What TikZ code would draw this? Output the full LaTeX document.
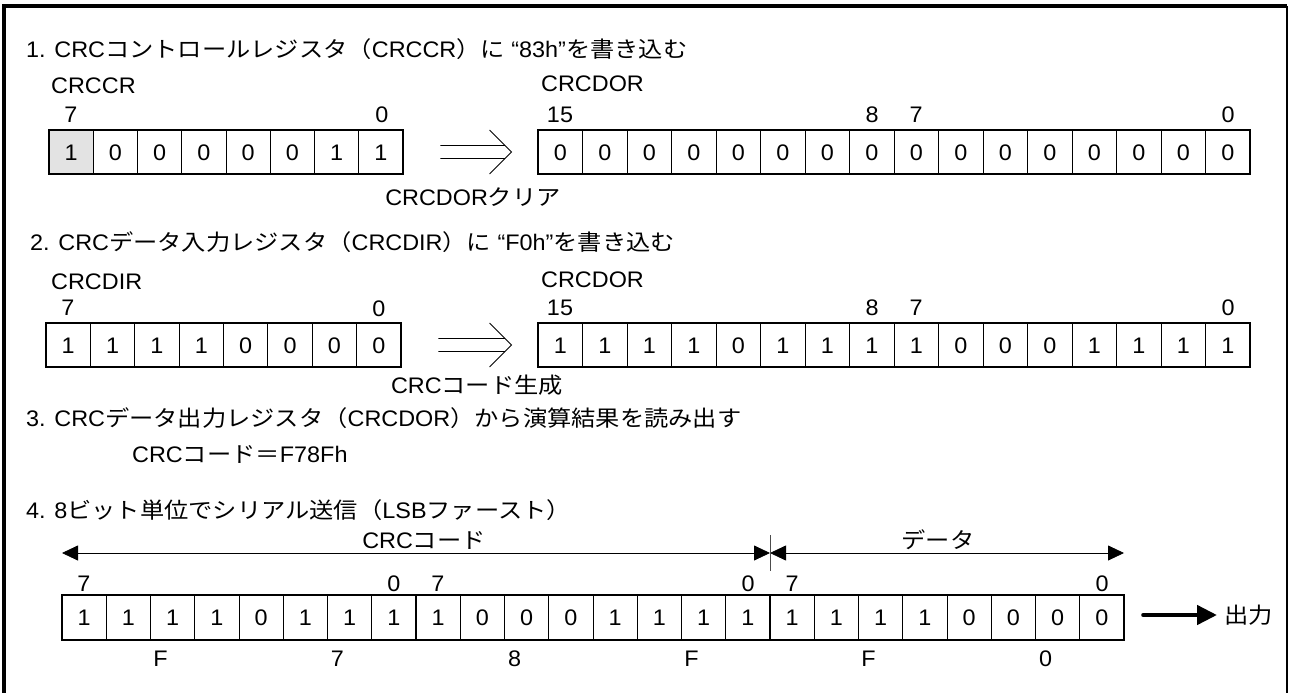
\documentclass[tikz,border=0pt]{standalone}
\usepackage{fontspec}
\setmainfont{Liberation Sans}[FakeStretch=1.04]
\newfontfamily\jpf{Noto Sans CJK JP}[FakeStretch=1.1,Scale=0.98]
\newcommand\J[1]{{\jpf #1}}
\usetikzlibrary{arrows.meta}
\definecolor{cellgray}{HTML}{E3E3E3}
\tikzset{
  txt/.style={font=\fontsize{22.5pt}{26pt}\selectfont, inner sep=0pt, text height=16pt, text depth=0pt},
  head/.style={txt, anchor=west},
  cellbox/.style={txt, draw=black, line width=0.8pt, minimum width=#1, minimum height=44pt},
  regframe/.style={draw=black, line width=2pt},
  thinline/.style={draw=black, line width=0.9pt},
  dimarrow/.style={draw=black, line width=0.8pt, {Triangle[length=16pt,width=15pt]}-{Triangle[length=16pt,width=15pt]}},
  outarrow/.style={draw=black, line width=4.5pt, line cap=round, -{Triangle[length=20pt,width=19pt]}}
}
\newcommand\dblarr[2]{% #1 = left node, #2 = right node
  \draw[thinline] ([xshift=37pt,yshift=6.5pt]#1.east) -- ([xshift=-32.5pt,yshift=6.5pt]#2.west)
                  ([xshift=37pt,yshift=-6.5pt]#1.east) -- ([xshift=-32.5pt,yshift=-6.5pt]#2.west)
                  ([xshift=-48pt,yshift=22pt]#2.west) -- ([xshift=-26pt]#2.west) -- ([xshift=-48pt,yshift=-22pt]#2.west);}
\begin{document}
\begin{tikzpicture}[x=1pt,y=-1pt]
\useasboundingbox (0,0) rectangle (1290,693);
% outer frame
\draw[line width=3.5pt] (4,693) -- (4,6) -- (1287,6);
\draw[line width=1.5pt] (1287,6) -- (1287,693);

% ---------- 1 ----------
\node[head] (h1) at (26,50) {1. CRC\J{コントロールレジスタ（}CRCCR\J{）に} “83h”\J{を書き込む}};
\node[head] (ccrname) at (51,85) {CRCCR};
\fill[cellgray] (49,130) rectangle (93.25,174);
\foreach \b [count=\i from 0] in {1,0,0,0,0,0,1,1}
  \node[cellbox=44.25pt] (ccr\i) at ({49+44.25*(\i+0.5)},152) {\b};
\draw[regframe] (ccr0.north west) rectangle (ccr7.south east);
\node[txt] (ccr7l) at (71,114) {7};
\node[txt] (ccr0l) at (382,114) {0};

\node[head] (dorname1) at (541,83) {CRCDOR};
\foreach \b [count=\i from 0] in {0,0,0,0,0,0,0,0,0,0,0,0,0,0,0,0}
  \node[cellbox=44.5pt] (da\i) at ({538+44.5*(\i+0.5)},152) {\b};
\draw[regframe] (da0.north west) rectangle (da15.south east);
\node[txt] (da15l) at (560,114) {15};
\node[txt] (da8l) at (872,114) {8};
\node[txt] (da7l) at (916,114) {7};
\node[txt] (da0l) at (1228,114) {0};
\dblarr{ccr7}{da0}
\node[txt] (clr) at (473,197) {CRCDOR\J{クリア}};

% ---------- 2 ----------
\node[head] (h2) at (30,242) {2. CRC\J{データ入力レジスタ（}CRCDIR\J{）に} “F0h”\J{を書き込む}};
\node[head] (dirname) at (51,281) {CRCDIR};
\foreach \b [count=\i from 0] in {1,1,1,1,0,0,0,0}
  \node[cellbox=44.375pt] (dir\i) at ({46+44.375*(\i+0.5)},345) {\b};
\draw[regframe] (dir0.north west) rectangle (dir7.south east);
\node[txt] (dir7l) at (68,307) {7};
\node[txt] (dir0l) at (379,308) {0};

\node[head] (dorname2) at (541,279) {CRCDOR};
\foreach \b [count=\i from 0] in {1,1,1,1,0,1,1,1,1,0,0,0,1,1,1,1}
  \node[cellbox=44.5pt] (db\i) at ({538+44.5*(\i+0.5)},345) {\b};
\draw[regframe] (db0.north west) rectangle (db15.south east);
\node[txt] (db15l) at (560,307) {15};
\node[txt] (db8l) at (872,307) {8};
\node[txt] (db7l) at (916,307) {7};
\node[txt] (db0l) at (1228,307) {0};
\dblarr{dir7}{db0}
\node[txt] (gen) at (477,385) {CRC\J{コード生成}};

% ---------- 3 ----------
\node[head] (h3) at (26,418) {3. CRC\J{データ出力レジスタ（}CRCDOR\J{）から演算結果を読み出す}};
\node[head] (code) at (132,454) {CRC\J{コード＝}F78Fh};

% ---------- 4 ----------
\node[head] (h4) at (26,510) {4. 8\J{ビット単位でシリアル送信（}LSB\J{ファースト）}};
\foreach \b [count=\i from 0] in {1,1,1,1,0,1,1,1, 1,0,0,0,1,1,1,1, 1,1,1,1,0,0,0,0}
  \node[cellbox=44.25pt] (s\i) at ({62+44.25*(\i+0.5)},617.5) {\b};
\draw[regframe] (s0.north west) rectangle (s23.south east);
\draw[line width=2pt] (s7.north east) -- (s7.south east);
\draw[line width=2pt] (s15.north east) -- (s15.south east);
\node[txt] (s7a) at (84,583) {7};
\node[txt] (s0a) at (394,583) {0};
\node[txt] (s7b) at (438,583) {7};
\node[txt] (s0b) at (748,583) {0};
\node[txt] (s7c) at (792,583) {7};
\node[txt] (s0c) at (1102,583) {0};
\foreach \t [count=\i from 0] in {F,7,8,F,F,0}
  \node[txt] (nib\i) at ({62+44.25*(4*\i+2)+10},658) {\t};

\coordinate (codeL) at (62,553);
\coordinate (mid) at (770,553);
\coordinate (dataR) at (1124,553);
\draw[dimarrow] (codeL) -- (mid);
\draw[dimarrow] (mid) -- (dataR);
\draw[line width=0.8pt, draw=black!70] (770,535) -- (770,571);
\node[txt] (crclab) at (424,540) {CRC\J{コード}};
\node[txt] (datalab) at (938,540) {\J{データ}};

\node[head] (out) at (1224,615) {\J{出力}};
\draw[outarrow] ([xshift=19pt]s23.east |- out.west) -- ([xshift=-7pt]out.west);
\end{tikzpicture}
\end{document}
